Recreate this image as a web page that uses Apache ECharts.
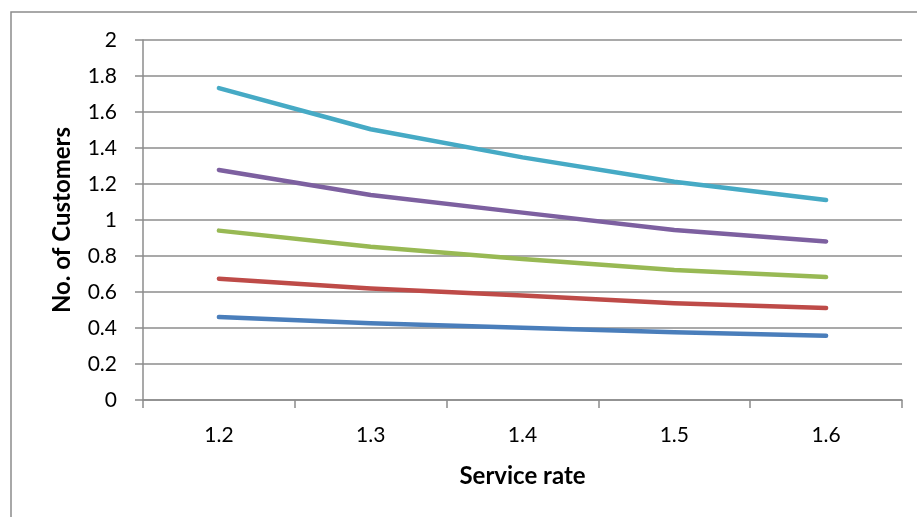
<!DOCTYPE html>
<html>
<head>
<meta charset="utf-8">
<script src="https://cdn.jsdelivr.net/npm/echarts@6/dist/echarts.min.js"></script>
<style>
html,body{margin:0;padding:0;background:#fff;}
#chart{width:917px;height:517px;}
</style>
</head>
<body>
<div id="chart"></div>
<script>
var categories = ['1.2', '1.3', '1.4', '1.5', '1.6'];
var series1 = [0.461, 0.426, 0.402, 0.376, 0.357];
var series2 = [0.674, 0.620, 0.580, 0.537, 0.511];
var series3 = [0.941, 0.852, 0.783, 0.722, 0.683];
var series4 = [1.278, 1.139, 1.041, 0.944, 0.881];
var series5 = [1.733, 1.504, 1.348, 1.213, 1.111];
var colors = ['#4a7ebb', '#be4b48', '#98b954', '#7d60a0', '#46aac5'];
var yTicks = [0, 0.2, 0.4, 0.6, 0.8, 1, 1.2, 1.4, 1.6, 1.8, 2];

var font = 'Lato, "Open Sans", sans-serif';
function mk(data, i) {
  return {
    type: 'line', data: data, symbol: 'none', smooth: false,
    lineStyle: { width: 4.5, color: colors[i], cap: 'round', join: 'round' },
    itemStyle: { color: colors[i] }
  };
}
var chart = echarts.init(document.getElementById('chart'));
chart.setOption({
  animation: false,
  backgroundColor: '#fff',
  grid: { left: 143, right: 15, top: 40, bottom: 117 },
  graphic: [{
    type: 'rect', shape: { x: 11, y: 12, width: 920, height: 520 },
    style: { fill: 'none', stroke: '#8c8c8c', lineWidth: 1.5 }, z: -1
  }],
  xAxis: {
    type: 'category', data: categories, boundaryGap: true,
    name: 'Service rate', nameLocation: 'middle', nameGap: 64,
    nameTextStyle: { fontFamily: font, fontWeight: 'bold', fontSize: 24, color: '#000' },
    axisLine: { lineStyle: { color: '#8c8c8c', width: 1.5 } },
    axisTick: { show: true, length: 8, inside: false, alignWithLabel: false, lineStyle: { color: '#8c8c8c', width: 1.5 } },
    axisLabel: { fontFamily: font, fontSize: 21, color: '#000', margin: 25 }
  },
  yAxis: {
    type: 'value', min: 0, max: 2, interval: 0.2,
    name: 'No. of Customers', nameLocation: 'middle', nameGap: 69, nameRotate: 90,
    nameTextStyle: { fontFamily: font, fontWeight: 'bold', fontSize: 24, color: '#000' },
    axisLine: { show: true, lineStyle: { color: '#8c8c8c', width: 1.5 } },
    axisTick: { show: true, length: 8, lineStyle: { color: '#8c8c8c', width: 1.5 } },
    splitLine: { show: true, lineStyle: { color: '#8c8c8c', width: 1.5 } },
    axisLabel: {
      fontFamily: font, fontSize: 21, color: '#000', margin: 26,
      formatter: function (v) { return String(Math.round(v * 10) / 10); }
    }
  },
  series: [mk(series1, 0), mk(series2, 1), mk(series3, 2), mk(series4, 3), mk(series5, 4)]
});
</script>
</body>
</html>
